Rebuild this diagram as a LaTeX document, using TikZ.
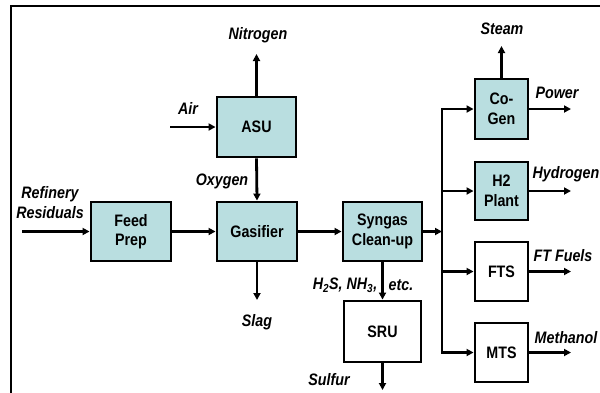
\documentclass[tikz,border=0pt]{standalone}
\usepackage{fontspec}
\setmainfont[FakeStretch=0.86]{Liberation Sans}
\usetikzlibrary{arrows.meta}
\definecolor{boxfill}{RGB}{185,222,224}
\begin{document}
\begin{tikzpicture}[x=1pt,y=-1pt,
  unit/.style={draw=black,line width=2.9pt,fill=boxfill,inner sep=0pt,align=center,
    font=\fontsize{16.6}{19.5}\selectfont\bfseries},
  wunit/.style={unit,fill=white},
  flow/.style={line width=2.8pt,-{Triangle[length=7pt,width=7pt]}},
  lbl/.style={font=\fontsize{16.6}{20}\selectfont\bfseries\itshape,inner sep=0pt,align=center}]
\useasboundingbox (0,0) rectangle (600,392);
\draw[line width=1.8pt] (11,393) -- (11,6) -- (601,6);
% boxes
\node[unit,minimum width=79pt,minimum height=60pt] (asu) at (256.5,127) {ASU};
\node[unit,minimum width=80pt,minimum height=59pt] (gas) at (257,231.5) {Gasifier};
\node[unit,minimum width=80pt,minimum height=59pt] (feed) at (131,231.5) {Feed\\Prep};
\node[unit,minimum width=79pt,minimum height=59pt] (syn) at (382.5,231.5) {Syngas\\Clean-up};
\node[wunit,minimum width=77pt,minimum height=61pt] (sru) at (382.5,331.5) {SRU};
\node[unit,minimum width=53pt,minimum height=60pt] (cogen) at (501.5,109) {Co-\\Gen};
\node[unit,minimum width=53pt,minimum height=58pt] (h2) at (501.5,191) {H2\\Plant};
\node[wunit,minimum width=53pt,minimum height=59pt] (fts) at (501.5,271.5) {FTS};
\node[wunit,minimum width=53pt,minimum height=59pt] (mts) at (501.5,352.5) {MTS};
% free ends
\coordinate (nit) at (256.5,54);
\coordinate (air) at (170,127);
\coordinate (res) at (22,231.5);
\coordinate (slag) at (257,300);
\coordinate (jn) at (442,231.5);
\coordinate (steam) at (501.5,46);
\coordinate (pow) at (571,109);
\coordinate (hyd) at (571,191);
\coordinate (ftf) at (571,271.5);
\coordinate (meth) at (571,352.5);
\coordinate (sul) at (382.5,390);
% connectors
\draw[flow] (asu.north) -- (nit);
\draw[flow] (air) -- (asu.west);
\draw[flow] (asu.south) -- (gas.north);
\draw[flow] (res) -- (feed.west);
\draw[flow] (feed.east) -- (gas.west);
\draw[flow] (gas.south) -- (slag);
\draw[flow] (gas.east) -- (syn.west);
\draw[flow] (syn.east) -- (jn);
\draw[flow] (syn.south) -- (sru.north);
\draw[flow] (sru.south) -- (sul);
\draw[line width=2.8pt] (442,109) -- (442,352.5);
\draw[flow] (jn) |- (cogen.west);
\draw[flow] (jn) |- (h2.west);
\draw[flow] (jn) |- (fts.west);
\draw[flow] (jn) |- (mts.west);
\draw[flow] (cogen.north) -- (steam);
\draw[flow] (cogen.east) -- (pow);
\draw[flow] (h2.east) -- (hyd);
\draw[flow] (fts.east) -- (ftf);
\draw[flow] (mts.east) -- (meth);
% labels
\node[lbl] (lnit) at (258,35) {Nitrogen};
\node[lbl] (lair) at (188,108) {Air};
\node[lbl] (lox) at (222,181) {Oxygen};
\node[lbl] (lres) at (50,203) {Refinery\\Residuals};
\node[lbl] (lslag) at (257,322) {Slag};
\node[lbl] (lsteam) at (502,29) {Steam};
\node[lbl] (lpow) at (557,93) {Power};
\node[lbl] (lhyd) at (566,174) {Hydrogen};
\node[lbl] (lft) at (563,256) {FT Fuels};
\node[lbl] (lmeth) at (566,338) {Methanol};
\node[lbl] (lsul) at (329,380) {Sulfur};
\node[lbl] (lh2s) at (345,285) {H\textsubscript{2}S, NH\textsubscript{3},};
\node[lbl] (letc) at (401,285) {etc.};
\end{tikzpicture}
\end{document}
